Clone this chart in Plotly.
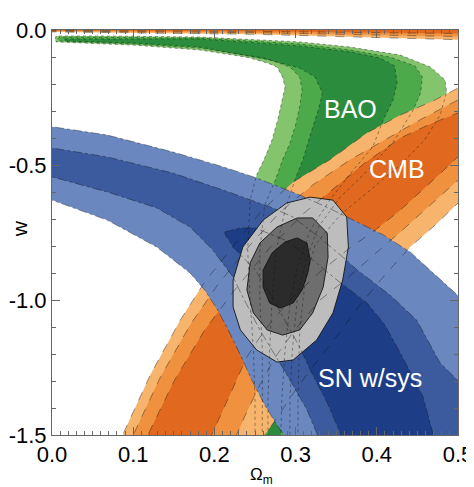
import plotly.graph_objects as go

# ---------------- data: confidence contours (Omega_m, w) ----------------
# BAO (green): 99.7%, 95%, 68%
bao_om_997 = [0.004, 0.005, 0.059, 0.182, 0.305, 0.367, 0.429, 0.466, 0.484, 0.486, 0.478, 0.459, 0.429, 0.392, 0.355, 0.324, 0.312, 0.305, 0.303, 0.303,
              0.250, 0.250, 0.248, 0.244, 0.241, 0.244, 0.252, 0.262, 0.271, 0.278, 0.284, 0.287, 0.284, 0.277, 0.265, 0.244, 0.223, 0.182, 0.100, 0.005]
bao_w_997 = [-0.033, -0.022, -0.022, -0.026, -0.044, -0.063, -0.093, -0.137, -0.185, -0.230, -0.315, -0.407, -0.500, -0.593, -0.685, -0.796, -0.926, -1.111, -1.370, -1.593,
             -1.593, -1.370, -1.185, -1.000, -0.815, -0.630, -0.537, -0.474, -0.407, -0.333, -0.259, -0.211, -0.174, -0.137, -0.122, -0.104, -0.093, -0.074, -0.056, -0.044]
bao_om_95 = [0.007, 0.010, 0.182, 0.305, 0.367, 0.416, 0.447, 0.456, 0.454, 0.445, 0.422, 0.389, 0.355, 0.328, 0.312, 0.302, 0.296, 0.293, 0.293,
             0.259, 0.259, 0.259, 0.256, 0.256, 0.262, 0.275, 0.284, 0.293, 0.300, 0.305, 0.308, 0.305, 0.293, 0.262, 0.182, 0.100, 0.010]
bao_w_95 = [-0.033, -0.026, -0.030, -0.052, -0.074, -0.100, -0.133, -0.174, -0.233, -0.296, -0.407, -0.519, -0.619, -0.730, -0.859, -1.000, -1.185, -1.370, -1.593,
            -1.593, -1.370, -1.185, -1.000, -0.815, -0.648, -0.556, -0.481, -0.419, -0.352, -0.285, -0.222, -0.174, -0.137, -0.104, -0.067, -0.052, -0.041]
bao_om_68 = [0.016, 0.182, 0.305, 0.367, 0.404, 0.422, 0.425, 0.420, 0.408, 0.395, 0.369, 0.342, 0.318, 0.303, 0.293, 0.287, 0.283, 0.281,
             0.266, 0.266, 0.268, 0.271, 0.276, 0.287, 0.299, 0.309, 0.318, 0.328, 0.333, 0.324, 0.305, 0.268, 0.182, 0.100, 0.016]
bao_w_68 = [-0.033, -0.033, -0.059, -0.081, -0.104, -0.133, -0.196, -0.259, -0.333, -0.433, -0.526, -0.630, -0.741, -0.870, -1.019, -1.185, -1.370, -1.593,
            -1.593, -1.370, -1.185, -1.000, -0.815, -0.667, -0.556, -0.481, -0.389, -0.296, -0.233, -0.174, -0.141, -0.111, -0.063, -0.048, -0.041]

# CMB (orange): main band, upper-left edge then lower-right edge
cmb_om_997 = [0.081, 0.087, 0.121, 0.158, 0.188, 0.225, 0.259, 0.297, 0.342, 0.388, 0.429, 0.469, 0.500, 0.527,
              0.527, 0.500, 0.472, 0.441, 0.410, 0.379, 0.349, 0.318, 0.293, 0.277, 0.262, 0.254]
cmb_w_997 = [-1.556, -1.500, -1.278, -1.074, -0.933, -0.796, -0.667, -0.563, -0.481, -0.381, -0.315, -0.263, -0.215, -0.185,
             -0.574, -0.641, -0.722, -0.804, -0.907, -1.019, -1.141, -1.259, -1.363, -1.437, -1.500, -1.556]
cmb_om_95 = [0.094, 0.100, 0.133, 0.170, 0.204, 0.244, 0.281, 0.321, 0.367, 0.410, 0.453, 0.500, 0.527,
             0.527, 0.500, 0.459, 0.429, 0.392, 0.361, 0.330, 0.299, 0.275, 0.256, 0.241, 0.228, 0.219]
cmb_w_95 = [-1.556, -1.500, -1.289, -1.093, -0.944, -0.796, -0.674, -0.574, -0.481, -0.407, -0.333, -0.259, -0.230,
            -0.500, -0.556, -0.667, -0.748, -0.844, -0.926, -1.000, -1.111, -1.211, -1.315, -1.407, -1.500, -1.556]
cmb_om_68 = [0.112, 0.118, 0.151, 0.188, 0.225, 0.268, 0.312, 0.355, 0.385, 0.429, 0.466, 0.500, 0.527,
             0.527, 0.500, 0.459, 0.429, 0.398, 0.367, 0.330, 0.293, 0.262, 0.240, 0.219, 0.198, 0.188]
cmb_w_68 = [-1.556, -1.500, -1.296, -1.111, -0.963, -0.807, -0.674, -0.567, -0.493, -0.400, -0.348, -0.307, -0.274,
            -0.407, -0.470, -0.585, -0.667, -0.741, -0.807, -0.896, -1.000, -1.111, -1.211, -1.352, -1.493, -1.556]
# CMB thin band along the top edge (lower boundary of each level)
cmb_top_om = [-0.05, 0.0, 0.25, 0.5, 0.55]
cmb_top_w_997 = [-0.006, -0.007, -0.016, -0.036, -0.040]
cmb_top_w_95 = [-0.004, -0.004, -0.010, -0.024, -0.027]
cmb_top_w_68 = [-0.001, -0.002, -0.005, -0.013, -0.015]

# SN w/sys (blue)
sn_om_997 = [-0.040, 0.000, 0.068, 0.149, 0.211, 0.252, 0.305, 0.346, 0.408, 0.441, 0.466, 0.499, 0.527, 0.530, 0.300,
             0.296, 0.286, 0.277, 0.262, 0.246, 0.232, 0.217, 0.204, 0.188, 0.170, 0.129, 0.068, 0.000, -0.040]
sn_w_997 = [-0.340, -0.359, -0.389, -0.452, -0.507, -0.548, -0.611, -0.667, -0.759, -0.822, -0.889, -0.981, -1.074, -1.650, -1.650,
            -1.556, -1.500, -1.463, -1.389, -1.296, -1.204, -1.111, -1.037, -0.963, -0.900, -0.804, -0.704, -0.630, -0.593]
sn_om_95 = [-0.040, 0.000, 0.068, 0.149, 0.211, 0.272, 0.297, 0.330, 0.355, 0.376, 0.416, 0.449, 0.478, 0.499, 0.527, 0.530, 0.330,
            0.333, 0.326, 0.314, 0.293, 0.275, 0.256, 0.235, 0.223, 0.198, 0.170, 0.129, 0.068, 0.000, -0.040]
sn_w_95 = [-0.426, -0.437, -0.470, -0.530, -0.593, -0.659, -0.693, -0.770, -0.833, -0.889, -0.981, -1.074, -1.233, -1.296, -1.370, -1.650, -1.650,
           -1.556, -1.493, -1.407, -1.296, -1.204, -1.111, -0.989, -0.915, -0.815, -0.730, -0.659, -0.600, -0.544, -0.526]
sn_om_68 = [0.213, 0.232, 0.250, 0.287, 0.318, 0.351, 0.388, 0.410, 0.429, 0.457, 0.469, 0.473,
            0.361, 0.355, 0.339, 0.318, 0.305, 0.287, 0.266, 0.250, 0.235, 0.223, 0.213]
sn_w_68 = [-0.748, -0.733, -0.733, -0.778, -0.844, -0.926, -1.011, -1.093, -1.196, -1.359, -1.493, -1.556,
           -1.556, -1.493, -1.381, -1.259, -1.174, -1.074, -0.963, -0.889, -0.841, -0.804, -0.756]

# Combined (grey)
all_om_997 = [0.318, 0.346, 0.363, 0.365, 0.358, 0.346, 0.326, 0.297, 0.277, 0.252, 0.232, 0.223, 0.223, 0.235, 0.260, 0.289]
all_w_997 = [-0.619, -0.630, -0.693, -0.804, -0.926, -1.048, -1.148, -1.222, -1.230, -1.185, -1.111, -1.026, -0.926, -0.804, -0.704, -0.641]
all_om_95 = [0.302, 0.321, 0.339, 0.340, 0.334, 0.321, 0.305, 0.284, 0.265, 0.248, 0.240, 0.244, 0.256, 0.277]
all_w_95 = [-0.696, -0.696, -0.752, -0.841, -0.952, -1.048, -1.111, -1.130, -1.111, -1.048, -0.963, -0.863, -0.789, -0.730]
all_om_68 = [0.302, 0.314, 0.318, 0.315, 0.308, 0.297, 0.281, 0.268, 0.260, 0.260, 0.271, 0.287]
all_w_68 = [-0.770, -0.789, -0.852, -0.900, -0.963, -1.011, -1.030, -1.011, -0.952, -0.889, -0.826, -0.785]

# axis ticks
x_ticks = [0.0, 0.1, 0.2, 0.3, 0.4, 0.5]
x_ticktext = ["0.0", "0.1", "0.2", "0.3", "0.4", "0.5"]
y_ticks = [0.0, -0.5, -1.0, -1.5]
y_ticktext = ["0.0", "-0.5", "-1.0", "-1.5"]

# region labels
labels = ["BAO", "CMB", "SN w/sys"]
label_om = [0.367, 0.425, 0.392]
label_w = [-0.293, -0.515, -1.289]

# ---------------- styling ----------------
C_BAO = ["#83c46d", "#4caa4a", "#2b8c3d"]
C_CMB = ["#f6b46c", "#f0913f", "#e1691f"]
C_SN = ["#6a88bf", "#3c5b9e", "#1d3d87"]
C_ALL = ["#bdbdbd", "#6e6e6e", "#2b2b2b"]
FONT = "Liberation Sans, Arial, sans-serif"

def close(xs, ys):
    return list(xs) + [xs[0]], list(ys) + [ys[0]]

top = 0.02
cmb_top = []
for wl in (cmb_top_w_997, cmb_top_w_95, cmb_top_w_68):
    cmb_top.append((cmb_top_om + cmb_top_om[::-1], wl + [top] * len(cmb_top_om)))

groups = [
    ([(bao_om_997, bao_w_997), (bao_om_95, bao_w_95), (bao_om_68, bao_w_68)], C_BAO, "dot"),
    ([(cmb_om_997, cmb_w_997), (cmb_om_95, cmb_w_95), (cmb_om_68, cmb_w_68)] + cmb_top, C_CMB + C_CMB, "dash"),
    ([(sn_om_997, sn_w_997), (sn_om_95, sn_w_95), (sn_om_68, sn_w_68)], C_SN, "dashdot"),
    ([(all_om_997, all_w_997), (all_om_95, all_w_95), (all_om_68, all_w_68)], C_ALL, "solid"),
]

fig = go.Figure()
for polys, cols, dash in groups:
    for (xs, ys), col in zip(polys, cols):
        cx, cy = close(xs, ys)
        fig.add_trace(go.Scatter(x=cx, y=cy, mode="lines", fill="toself", fillcolor=col,
                                 line=dict(width=0, color=col), hoverinfo="skip", showlegend=False))
for polys, cols, dash in groups:
    for (xs, ys) in polys:
        cx, cy = close(xs, ys)
        solid = dash == "solid"
        fig.add_trace(go.Scatter(x=cx, y=cy, mode="lines",
                                 line=dict(width=1.0 if solid else 0.7,
                                           color="rgba(20,20,20,0.9)" if solid else "rgba(20,20,20,0.6)", dash=dash),
                                 hoverinfo="skip", showlegend=False))

for t, xo, yo in zip(labels, label_om, label_w):
    fig.add_annotation(x=xo, y=yo, xref="x", yref="y", text=t, showarrow=False,
                       xanchor="center", yanchor="middle",
                       font=dict(family=FONT, size=25, color="white"))

fig.add_annotation(x=-0.078, y=0.509, xref="paper", yref="paper", text="w", textangle=-90, showarrow=False,
                   xanchor="center", yanchor="middle", borderpad=0,
                   font=dict(family=FONT, size=21, color="black"))
fig.add_annotation(x=0.517, y=-0.1, xref="paper", yref="paper", text="Ω<sub>m</sub>", showarrow=False,
                   xanchor="center", yanchor="middle",
                   font=dict(family=FONT, size=17, color="black"))

axis_common = dict(showgrid=False, zeroline=False, showline=True, linecolor="#666666", linewidth=1,
                   mirror="allticks", ticks="inside", ticklen=8, tickcolor="#666666", tickwidth=1,
                   automargin=False,
                   tickfont=dict(family=FONT, size=22, color="black"))

# the page adds an 8 px body margin, so the figure is 8 px smaller each way
fig.update_layout(
    width=466, height=479,
    margin=dict(l=44, r=16, t=22, b=52),
    paper_bgcolor="white", plot_bgcolor="white",
    xaxis=dict(range=[0, 0.5], tickmode="array", tickvals=x_ticks, ticktext=x_ticktext,
               minor=dict(dtick=0.01, tick0=0, ticks="inside", ticklen=4, tickcolor="#666666", showgrid=False),
               **axis_common),
    yaxis=dict(range=[-1.5, 0], tickmode="array", tickvals=y_ticks, ticktext=y_ticktext,
               minor=dict(dtick=0.1, tick0=0, ticks="inside", ticklen=4, tickcolor="#666666", showgrid=False),
               **axis_common),
)

fig.write_html("out.html")
